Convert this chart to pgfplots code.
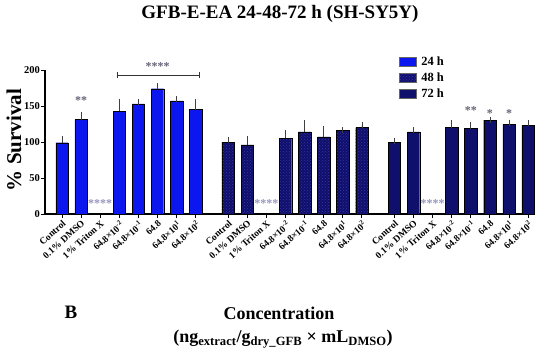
\documentclass[border=0pt]{standalone}
\usepackage{pgfplots}
\pgfplotsset{compat=1.18}
\usepackage{fontspec}
\setmainfont{Liberation Serif}
\usetikzlibrary{patterns}
\definecolor{c24}{RGB}{12,22,238}
\definecolor{c48}{RGB}{16,16,105}
\definecolor{c48dot}{RGB}{50,50,175}
\definecolor{c72}{RGB}{14,16,108}
\definecolor{starc}{RGB}{100,100,120}
\definecolor{starl}{RGB}{150,150,190}
\begin{document}
\begin{tikzpicture}[x=1pt,y=1pt]
\path[use as bounding box] (-45,-140) rectangle (505,214);
\begin{axis}[
  at={(0,0)}, anchor=south west, scale only axis,
  width=490pt, height=144pt,
  xmin=-0.89, xmax=24.76, ymin=0, ymax=200,
  axis x line*=bottom, axis y line*=left,
  axis line style={line width=1.2pt},
  clip=false,
  tick align=outside, major tick length=4pt,
  tick style={black, line width=1pt},
  ytick={0,50,100,150,200},
  /pgf/number format/assume math mode=true,
  yticklabel style={font=\bfseries\fontsize{10.5}{12}\selectfont, inner sep=1pt},
  xtick={0,1,2,3,4,5,6,7,8.7,9.7,10.7,11.7,12.7,13.7,14.7,15.7,17.4,18.4,19.4,20.4,21.4,22.4,23.4,24.4},
  xticklabels={Control,0.1\% DMSO,1\% Triton X,64.8×10\textsuperscript{-2},64.8×10\textsuperscript{-1},64.8,64.8×10\textsuperscript{1},64.8×10\textsuperscript{2},
               Control,0.1\% DMSO,1\% Triton X,64.8×10\textsuperscript{-2},64.8×10\textsuperscript{-1},64.8,64.8×10\textsuperscript{1},64.8×10\textsuperscript{2},
               Control,0.1\% DMSO,1\% Triton X,64.8×10\textsuperscript{-2},64.8×10\textsuperscript{-1},64.8,64.8×10\textsuperscript{1},64.8×10\textsuperscript{2}},
  xticklabel style={font=\bfseries\fontsize{9.5}{10}\selectfont, rotate=42, anchor=north east, inner sep=1pt},
  legend style={at={(0.722,1.105)}, anchor=north west, draw=none, fill=none,
    font=\bfseries\fontsize{12.5}{14}\selectfont, row sep=1.5pt, inner sep=0pt,
    nodes={inner xsep=5pt}},
  legend cell align=left,
  error bars/error bar style={black!75, line width=0.8pt},
  error bars/error mark options={black!75, line width=0.8pt, mark size=3pt},
]
\addplot[ybar, bar width=0.65, bar shift=0pt, fill=c24, draw=black, line width=0.4pt,
  legend image code/.code={\draw[fill=c24,draw=black!60] (0pt,-4.5pt) rectangle (17pt,4.5pt);},
  error bars/.cd, y dir=plus, y explicit]
  coordinates {(0,99) +- (0,5) (1,131) +- (0,7) (3,143) +- (0,13) (4,153) +- (0,3) (5,174) +- (0,4) (6,157) +- (0,3) (7,145) +- (0,11)};
\addlegendentry{24 h}
\addplot[ybar, bar width=0.65, bar shift=0pt, fill=c48, draw=black, line width=0.4pt,
  postaction={pattern=crosshatch dots, pattern color=c48dot},
  legend image code/.code={\draw[fill=c48,draw=black!60,postaction={pattern=crosshatch dots, pattern color=c48dot}] (0pt,-4.5pt) rectangle (17pt,4.5pt);},
  error bars/.cd, y dir=plus, y explicit]
  coordinates {(8.7,100) +- (0,3) (9.7,96) +- (0,8) (11.7,105) +- (0,8) (12.7,114) +- (0,12) (13.7,107) +- (0,11) (14.7,116) +- (0,1) (15.7,120) +- (0,4)};
\addlegendentry{48 h}
\addplot[ybar, bar width=0.65, bar shift=0pt, fill=c72, draw=black, line width=0.4pt,
  legend image code/.code={\draw[fill=c72,draw=black!60] (0pt,-4.5pt) rectangle (17pt,4.5pt);},
  error bars/.cd, y dir=plus, y explicit]
  coordinates {(17.4,100) +- (0,1) (18.4,114) +- (0,2) (20.4,120) +- (0,6) (21.4,118.5) +- (0,5) (22.4,130.5) +- (0,0.5) (23.4,124.5) +- (0,2.5) (24.4,122.7) +- (0,3)};
\addlegendentry{72 h}
% significance marks
\node[font=\bfseries\fontsize{12}{12}\selectfont, text=starc] at (axis cs:1,157) {**};
\node[font=\bfseries\fontsize{12}{12}\selectfont, text=starl] at (axis cs:2,15) {****};
\node[font=\bfseries\fontsize{12}{12}\selectfont, text=starl] at (axis cs:10.7,15) {****};
\node[font=\bfseries\fontsize{12}{12}\selectfont, text=starl] at (axis cs:19.4,15) {****};
\draw[black!80, line width=0.8pt] (axis cs:2.88,193) -- (axis cs:7.17,193);
\draw[black!80, line width=0.8pt] (axis cs:2.88,189) -- (axis cs:2.88,197);
\draw[black!80, line width=0.8pt] (axis cs:7.17,189) -- (axis cs:7.17,197);
\node[font=\bfseries\fontsize{12}{12}\selectfont, text=starc] at (axis cs:5,205) {****};
\node[font=\bfseries\fontsize{12}{12}\selectfont, text=starc] at (axis cs:21.4,144) {**};
\node[font=\bfseries\fontsize{12}{12}\selectfont, text=starc] at (axis cs:22.4,140) {*};
\node[font=\bfseries\fontsize{12}{12}\selectfont, text=starc] at (axis cs:23.4,140) {*};
\end{axis}
\node[font=\bfseries\fontsize{19}{22}\selectfont] at (235,200) {GFB-E-EA 24-48-72 h (SH-SY5Y)};
\node[rotate=90, font=\bfseries\fontsize{21}{24}\selectfont] at (-31,74) {\% Survival};
\node[font=\bfseries\fontsize{18}{20}\selectfont] at (234,-99) {Concentration};
\node[font=\bfseries\fontsize{18}{20}\selectfont] at (238,-125) {(ng\textsubscript{extract}/g\textsubscript{dry\_GFB} × mL\textsubscript{DMSO})};
\node[font=\bfseries\fontsize{19}{22}\selectfont] at (26,-98) {B};
\end{tikzpicture}
\end{document}
